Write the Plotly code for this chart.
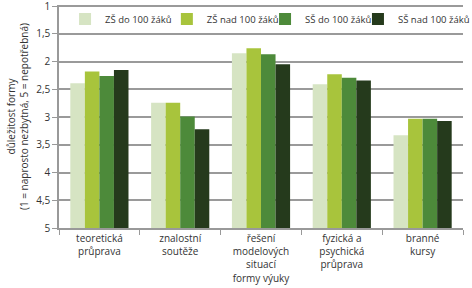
import plotly.graph_objects as go

categories = ["teoretická<br>průprava", "znalostní<br>soutěže", "řešení<br>modelových<br>situací",
              "fyzická a<br>psychická<br>průprava", "branné<br>kursy"]
series_names = ["ZŠ do 100 žáků", "ZŠ nad 100 žáků", "SŠ do 100 žáků", "SŠ nad 100 žáků"]
zs_do = [2.39, 2.74, 1.85, 2.41, 3.33]
zs_nad = [2.18, 2.74, 1.76, 2.23, 3.03]
ss_do = [2.26, 2.99, 1.87, 2.29, 3.03]
ss_nad = [2.15, 3.22, 2.05, 2.34, 3.07]
colors = ["#d6e4c3", "#a8c43c", "#4d8a3a", "#253a1c"]
y_ticks = [1, 1.5, 2, 2.5, 3, 3.5, 4, 4.5, 5]
legend_x = [0.015, 0.267, 0.51, 0.74]
BASE = 5

legend_ids = ["legend", "legend2", "legend3", "legend4"]

fig = go.Figure()
for name, vals, col, lid in zip(series_names, [zs_do, zs_nad, ss_do, ss_nad], colors, legend_ids):
    fig.add_trace(go.Bar(x=categories, y=[v - BASE for v in vals], base=BASE, name=name,
                         legend=lid, marker=dict(color=col, line=dict(width=0))))

font = dict(family="Open Sans, sans-serif", size=10, color="#333333")
legend_style = dict(orientation="h", y=1.002, xanchor="left", yanchor="top",
                    font=dict(size=9.5, color="#333333"), bgcolor="rgba(255,255,255,0)",
                    itemwidth=30)
legends = {lid: dict(x=lx, **legend_style) for lid, lx in zip(legend_ids, legend_x)}

fig.update_layout(
    width=472, height=288, margin=dict(l=59, r=9, t=5, b=60, autoexpand=False),
    paper_bgcolor="white", plot_bgcolor="white",
    barmode="group", bargap=0.28, bargroupgap=0,
    separators=", ", font=font, showlegend=True,
    xaxis=dict(type="category", tickson="boundaries", ticks="outside", ticklen=5,
               tickcolor="#999999", showline=True, linecolor="#999999", linewidth=1.5,
               showgrid=False,
               title=dict(text="formy výuky", font=dict(size=10, color="#333333"), standoff=2)),
    yaxis=dict(range=[5, 0.98], tickvals=y_ticks, ticks="outside", ticklen=5,
               tickcolor="#999999", showline=True, linecolor="#999999", linewidth=1.5,
               showgrid=True, gridcolor="#9a9a9a", gridwidth=1.5, zeroline=False,
               tickformat=".1~f", ticklabeloverflow="allow",
               title=dict(text="důležitost formy<br>(1 = naprosto nezbytná, 5 = nepotřebná)",
                          font=dict(size=10, color="#333333"), standoff=6)),
    **legends,
)
fig.write_html("out.html")
